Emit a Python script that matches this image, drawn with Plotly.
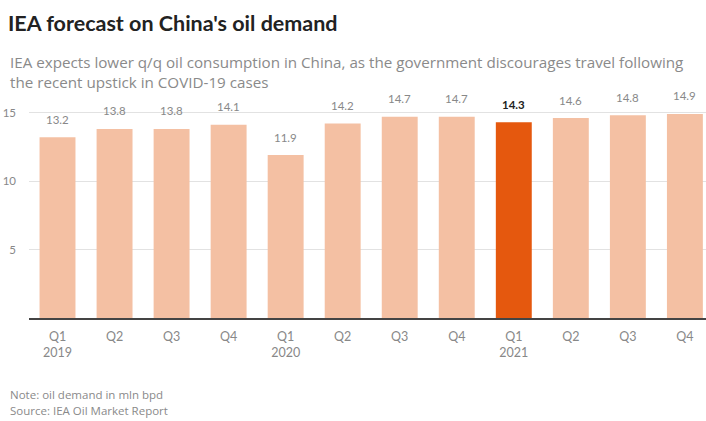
import plotly.graph_objects as go

quarters = ["Q1<br>2019", "Q2", "Q3", "Q4", "Q1<br>2020", "Q2", "Q3", "Q4",
            "Q1<br>2021", "Q2", "Q3", "Q4"]
demand = [13.2, 13.8, 13.8, 14.1, 11.9, 14.2, 14.7, 14.7, 14.3, 14.6, 14.8, 14.9]
highlight_index = 8
y_ticks = [5, 10, 15]

LIGHT = "#F4C0A3"
DARK = "#E5580E"

W, H = 706, 421
L, R, T, B = 28.5, 0, 92, 103
plot_h = H - T - B
plot_w = W - L - R

def px_x(p):
    return (p - L) / plot_w

def px_y(p):
    return (H - B - p) / plot_h

positions = list(range(len(demand)))
colors = [DARK if i == highlight_index else LIGHT for i in positions]

fig = go.Figure()
fig.add_trace(go.Bar(
    x=positions, y=demand, marker=dict(color=colors, line=dict(width=0)),
    width=0.63, hoverinfo="skip", showlegend=False,
))

for i, v in zip(positions, demand):
    hl = i == highlight_index
    fig.add_annotation(
        x=i, y=v, xref="x", yref="y", text=(f"<b>{v}</b>" if hl else f"{v}"),
        showarrow=False, yshift=18,
        font=dict(family="Lato", size=11.5, color="#222222" if hl else "#888888"),
    )

SUB_FONT = dict(family="Open Sans", size=15.2, color="#8a8a8a")
NOTE_FONT = dict(family="Open Sans", size=11.5, color="#8a8a8a")

fig.add_annotation(
    x=px_x(7), y=px_y(62), xref="paper", yref="paper", xanchor="left", yanchor="middle",
    text="IEA expects lower q/q oil consumption in China, as the government discourages travel following",
    showarrow=False, font=SUB_FONT, align="left",
)
fig.add_annotation(
    x=px_x(7), y=px_y(82), xref="paper", yref="paper", xanchor="left", yanchor="middle",
    text="the recent upstick in COVID-19 cases",
    showarrow=False, font=SUB_FONT, align="left",
)
fig.add_annotation(
    x=px_x(7), y=px_y(394), xref="paper", yref="paper", xanchor="left", yanchor="middle",
    text="Note: oil demand in mln bpd",
    showarrow=False, font=NOTE_FONT,
)
fig.add_annotation(
    x=px_x(7), y=px_y(411), xref="paper", yref="paper", xanchor="left", yanchor="middle",
    text="Source: IEA Oil Market Report",
    showarrow=False, font=NOTE_FONT,
)

fig.update_layout(
    width=W, height=H,
    margin=dict(l=L, r=R, t=T, b=B, pad=0),
    paper_bgcolor="white", plot_bgcolor="white",
    title=dict(
        text="<b>IEA forecast on China's oil demand</b>",
        x=8 / W, xanchor="left", xref="container",
        y=1 - 23 / H, yanchor="middle", yref="container",
        font=dict(family="Lato", size=21.5, color="#222222"),
    ),
    xaxis=dict(
        tickvals=positions, ticktext=quarters, range=[-0.5, 11.37],
        showgrid=False, showline=True, linecolor="#444444", linewidth=1.5,
        ticks="", tickfont=dict(family="Lato", size=12.5, color="#888888"),
        ticklabelstandoff=6,
        zeroline=False, fixedrange=True,
    ),
    yaxis=dict(
        range=[0, 16.5], tickvals=y_ticks, showgrid=True, gridcolor="#e2e2e2",
        gridwidth=1, zeroline=False, showline=False, ticks="",
        tickfont=dict(family="Lato", size=11.5, color="#888888"),
        ticklabelstandoff=12, fixedrange=True,
    ),
    bargap=0.37,
)

fig.write_html("out.html")
